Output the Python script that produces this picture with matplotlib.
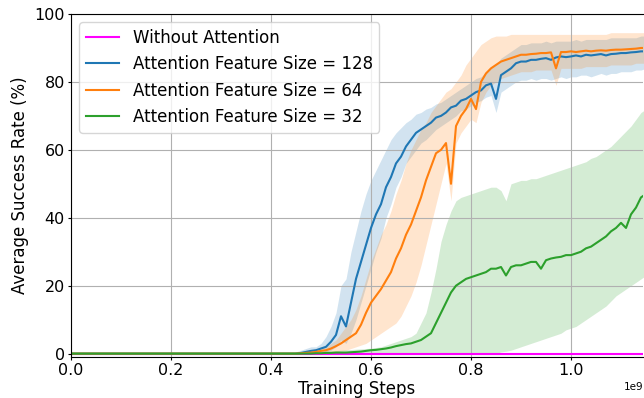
import matplotlib
matplotlib.use("Agg")
import matplotlib.pyplot as plt
import numpy as np


# Training steps (in units of 1e7)
steps = [0, 44, 45, 46, 47, 48, 49, 50, 51, 52, 53, 54, 55, 56, 57, 58, 59,
         60, 61, 62, 63, 64, 65, 66, 67, 68, 69, 70, 71, 72, 73, 74, 75, 76,
         77, 78, 79, 80, 81, 82, 83, 84, 85, 86, 87, 88, 89, 90, 91, 92, 93,
         94, 95, 96, 97, 98, 99, 100, 101, 102, 103, 104, 105, 106, 107, 108,
         109, 110, 111, 112, 113, 114, 115]

no_attention = [0.0] * len(steps)

# Attention Feature Size = 128
att128_mean = [0, 0, 0, 0.2, 0.5, 0.8, 1.0, 1.5, 2.0, 3.5, 5.5, 11, 8, 15, 22, 27, 32,
               37, 41, 44, 49, 52, 56, 58, 61, 63, 65, 66, 67, 68, 69.5, 70, 71, 72.5,
               73, 74.5, 75, 76, 77, 77.5, 79, 79.5, 75, 82, 83, 84, 85.5, 86, 86, 86.5, 86.5,
               86.8, 87, 86.5, 87.2, 87.5, 87.3, 87.5, 87.8, 87.5, 88, 87.8, 88, 88.2, 87.8, 88.2,
               88.3, 88.5, 88.5, 88.7, 88.8, 89, 89]
att128_low = [0, 0, 0, 0, 0, 0, 0, 0, 0.5, 1, 2, 4, 3, 6, 10, 15, 20,
              25, 30, 34, 40, 44, 49, 52, 56, 58, 60, 62, 63, 64.5, 66, 67, 68, 69,
              70, 71.5, 72, 73, 74, 74.5, 75.5, 76, 71, 77, 78, 79, 80, 80.5, 80.5, 81, 80.5,
              81, 81, 80.5, 81, 81.5, 81, 81.5, 81.5, 82, 82, 81.5, 82, 82.5, 82, 82.5,
              82.5, 83, 83, 83, 83.5, 83.5, 84]
att128_high = [0, 0, 0.5, 1, 1.5, 2, 2, 3, 5, 8, 12, 20, 22, 30, 36, 42, 47,
               51, 54, 57, 60, 63, 65, 66.5, 68, 69, 70.5, 71, 72, 72.5, 73.5, 74, 75, 76,
               77, 78, 79, 80, 81, 81.5, 83, 84, 85, 87, 88, 89, 90, 91, 91, 91.5, 91.5,
               91.5, 92, 91.5, 92, 92, 92, 92, 92.5, 92, 92.5, 92.5, 92.5, 92.5, 92.5, 93,
               93, 93, 93, 93, 93, 93.5, 93.5]

# Attention Feature Size = 64
att64_mean = [0, 0, 0, 0.1, 0.2, 0.3, 0.5, 0.8, 1.0, 1.5, 2.2, 3, 4, 5, 6, 8.5, 12,
              15, 17, 19, 21.5, 24, 28, 31, 35, 38, 42, 46, 51, 55, 59, 60, 62, 50,
              67, 70, 72, 75, 72, 80, 82.5, 84, 85, 86, 86.5, 87, 87.5, 88, 88, 88.2, 88.3,
              88.5, 88.5, 88.7, 84, 88.8, 88.8, 89, 88.8, 89, 89.2, 89, 89.2, 89.3, 89.2, 89.4,
              89.5, 89.5, 89.6, 89.7, 89.8, 90, 90]
att64_low = [0, 0, 0, 0, 0, 0, 0, 0, 0, 0.2, 0.5, 0.8, 1, 1.5, 2, 2.5, 3,
             4, 5, 6, 7, 8, 9, 11, 14, 17, 21, 26, 32, 38, 44, 50, 56, 45,
             62, 65, 67, 69, 68, 74, 77, 79, 80, 81, 81.5, 82, 82.5, 83, 83, 83, 83.5,
             83.5, 83.5, 83.5, 79, 84, 84, 84, 84, 84, 84.5, 84.5, 84.5, 84.5, 84.5, 85,
             85, 85, 85, 85, 85.5, 85.5, 85.5]
att64_high = [0, 0, 0.5, 0.5, 1, 1, 1.5, 1.5, 2, 3, 4, 6, 8, 10, 13, 17, 22,
              27, 31, 35, 38, 42, 47, 51, 56, 60, 63, 66, 68, 71, 73, 75, 77, 78,
              80, 82, 85, 87, 89, 91, 92, 93, 93.5, 93.5, 93.5, 94, 94, 94, 94, 94, 94,
              94, 94, 94, 94, 94, 94, 94, 94, 94, 94, 94, 94, 94, 94, 94.5,
              94.5, 94.5, 94.5, 94.5, 94.5, 94.5, 94.5]

# Attention Feature Size = 32
att32_mean = [0, 0, 0, 0, 0, 0, 0.1, 0.1, 0.2, 0.2, 0.3, 0.3, 0.3, 0.4, 0.5, 0.6, 0.8,
              1, 1.1, 1.3, 1.5, 1.8, 2.2, 2.5, 2.8, 3, 3.5, 4, 5, 6, 9, 12, 15, 18,
              20, 21, 22, 22.5, 23, 23.5, 24, 25, 25, 25.5, 23, 25.5, 26, 26, 26.5, 27, 27,
              25, 27.5, 28, 28.3, 28.5, 29, 29, 29.5, 30, 31, 31.5, 32.5, 33.5, 34.5, 36,
              37, 38.5, 37, 41, 43, 46, 47]
att32_low = [0, 0, 0, 0, 0, 0, 0, 0, 0, 0, 0, 0, 0, 0, 0, 0, 0,
             0, 0, 0, 0, 0, 0, 0, 0, 0, 0, 0, 0, 0, 0, 0, 0, 0,
             0, 0, 0, 0, 0, 0, 0, 0, 0, 0.5, 0.7, 1, 1.5, 2, 2.5, 3, 3.5,
             4, 4.5, 5, 5.5, 6, 7, 7.5, 8, 9, 10, 11, 12, 13, 14, 15.5,
             17, 18, 19, 20, 21, 22, 23]
att32_high = [0, 0, 0, 0.2, 0.3, 0.4, 0.5, 0.6, 0.7, 0.8, 0.9, 1, 1.1, 1.2, 1.3, 1.4, 1.5,
              1.6, 1.8, 2, 2.5, 3, 3.5, 4, 4.5, 5, 6, 9, 12, 18, 25, 33, 38, 42,
              45, 46, 46.5, 47, 47.5, 48, 48.5, 49, 49, 48, 45, 50, 50.5, 51, 51, 51.5, 51.5,
              52, 52.5, 53, 53.5, 54, 54.5, 55, 55.5, 56, 56.5, 57.5, 58, 59, 60, 61,
              62.5, 64, 65.5, 67, 69, 71, 72]

series = [
    ("Attention Feature Size = 128", "tab:blue", att128_mean, att128_low, att128_high),
    ("Attention Feature Size = 64", "tab:orange", att64_mean, att64_low, att64_high),
    ("Attention Feature Size = 32", "tab:green", att32_mean, att32_low, att32_high),
]

x = np.array(steps) * 1e7

fig = plt.figure(figsize=(6.44, 3.98), dpi=100)
ax = fig.add_axes([71 / 644, 41 / 398, 572 / 644, 343 / 398])

ax.plot(x, no_attention, color="magenta", label="Without Attention")
for name, color, mean, low, high in series:
    ax.fill_between(x, low, high, color=color, alpha=0.2, linewidth=0)
    ax.plot(x, mean, color=color, label=name)

ax.set_xlim(0, 1.144e9)
ax.set_ylim(-1, 100)
ax.set_xlabel("Training Steps", fontsize=12, labelpad=1)
ax.set_ylabel("Average Success Rate (%)", fontsize=12)
ax.tick_params(labelsize=11.5, length=2.5, pad=2)
ax.xaxis.get_offset_text().set_fontsize(7.5)
# the reference is cropped on the right, so no right spine shows
ax.spines["right"].set_visible(False)
ax.grid(True)
ax.legend(loc="upper left", fontsize=12)

fig.savefig("out.png", dpi=100)
